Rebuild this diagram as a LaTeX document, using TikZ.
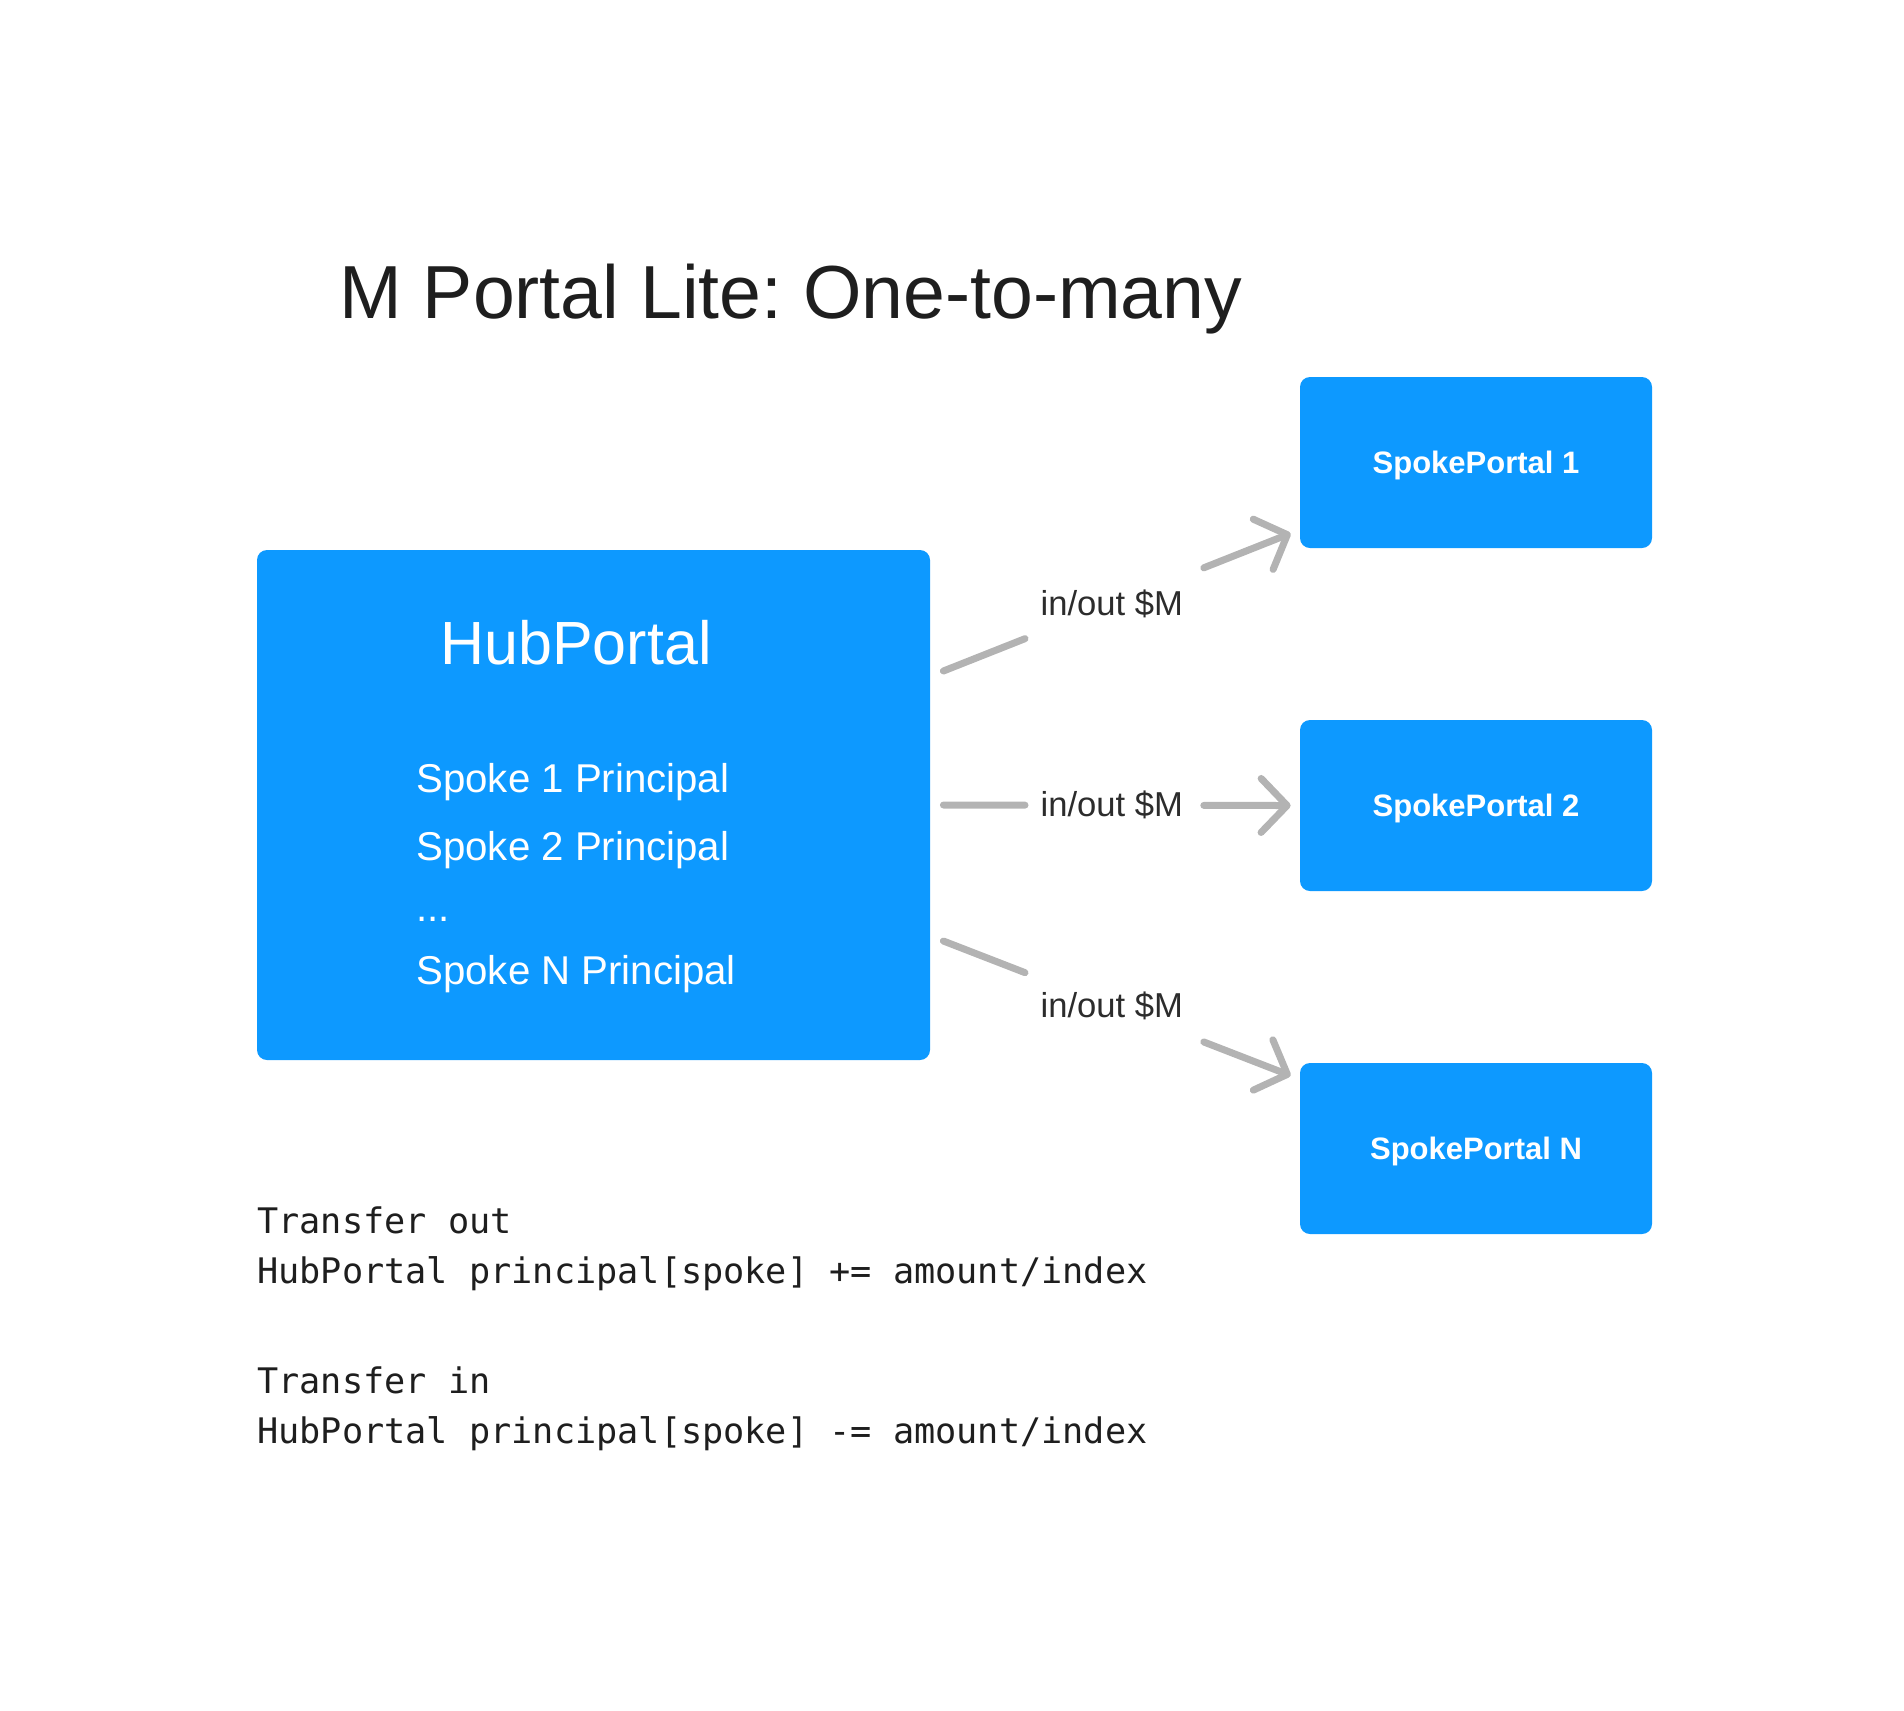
\documentclass[tikz,border=0pt]{standalone}
\usepackage{fontspec}
\setmainfont{Liberation Sans}
\setmonofont{DejaVu Sans Mono}
\usetikzlibrary{arrows.meta,calc}
\definecolor{portalblue}{HTML}{0D99FF}
\definecolor{linegray}{HTML}{B3B3B3}
\definecolor{inkdark}{HTML}{1E1E1E}
\definecolor{labeldark}{HTML}{2C2C2C}
\frenchspacing
\begin{document}
\begin{tikzpicture}[x=0.5pt,y=-0.5pt,
  box/.style={fill=portalblue, rounded corners=5pt, inner sep=0pt},
  hubbox/.style={box, minimum width=336.5pt, minimum height=255pt},
  spokebox/.style={box, minimum width=176pt, minimum height=85.5pt,
     text=white, text depth=0pt, font=\fontsize{15.5}{18}\selectfont\bfseries},
  hubtext/.style={anchor=base west, text=white, inner sep=0pt},
  conn/.style={draw=linegray, line width=3.5pt, line cap=round, line join=round},
  tip/.style={-{Straight Barb[length=13pt, width=27pt, round]}},
  lbl/.style={text=labeldark, font=\fontsize{17.3}{20}\selectfont, inner sep=0pt},
  code/.style={anchor=base west, inner sep=0pt, text=inkdark, font=\fontsize{17.6}{21}\selectfont\ttfamily}
]
\useasboundingbox (0,0) rectangle (1904,1710);

\node[anchor=base west, inner sep=0pt, text=inkdark, font=\fontsize{37.6}{44}\selectfont] (title) at (339,318) {M Portal Lite: One-to-many};

\node[hubbox] (hub) at (593.5,805) {};
\node[hubtext, font=\fontsize{30.5}{36}\selectfont] (hubname) at (440,664) {HubPortal};
\node[hubtext, font=\fontsize{20.1}{24}\selectfont] (p1) at (416,792) {Spoke 1 Principal};
\node[hubtext, font=\fontsize{20.1}{24}\selectfont] (p2) at (416,860) {Spoke 2 Principal};
\node[hubtext, font=\fontsize{20.1}{24}\selectfont] (pdots) at (416,921) {...};
\node[hubtext, font=\fontsize{20.1}{24}\selectfont] (pn) at (416,984) {Spoke N Principal};

\node[spokebox] (sp1) at (1476,462.5) {SpokePortal 1};
\node[spokebox] (sp2) at (1476,805.5) {SpokePortal 2};
\node[spokebox] (spn) at (1476,1148.5) {SpokePortal N};

\coordinate (s1) at ($(hub.east)+(13,-134)$);
\coordinate (s2) at ($(hub.east)+(13,0)$);
\coordinate (sn) at ($(hub.east)+(13,136)$);
\coordinate (e1) at ($(sp1.south west)+(-9,-15)$);
\coordinate (e2) at ($(sp2.west)+(-9,0)$);
\coordinate (en) at ($(spn.north west)+(-9,13)$);

\foreach \s/\e in {s1/e1,s2/e2,sn/en}{
  \draw[conn] (\s) -- ($(\s)!0.235!(\e)$);
  \draw[conn,tip] ($(\s)!0.75!(\e)$) -- (\e);
  \path (\s) -- node[lbl, pos=0.485]{in/out \$M} (\e);
}

\node[code] (c1) at (257,1233) {Transfer out};
\node[code] (c2) at (257,1283) {HubPortal principal[spoke] += amount/index};
\node[code] (c3) at (257,1393) {Transfer in};
\node[code] (c4) at (257,1443) {HubPortal principal[spoke] -= amount/index};
\end{tikzpicture}
\end{document}
